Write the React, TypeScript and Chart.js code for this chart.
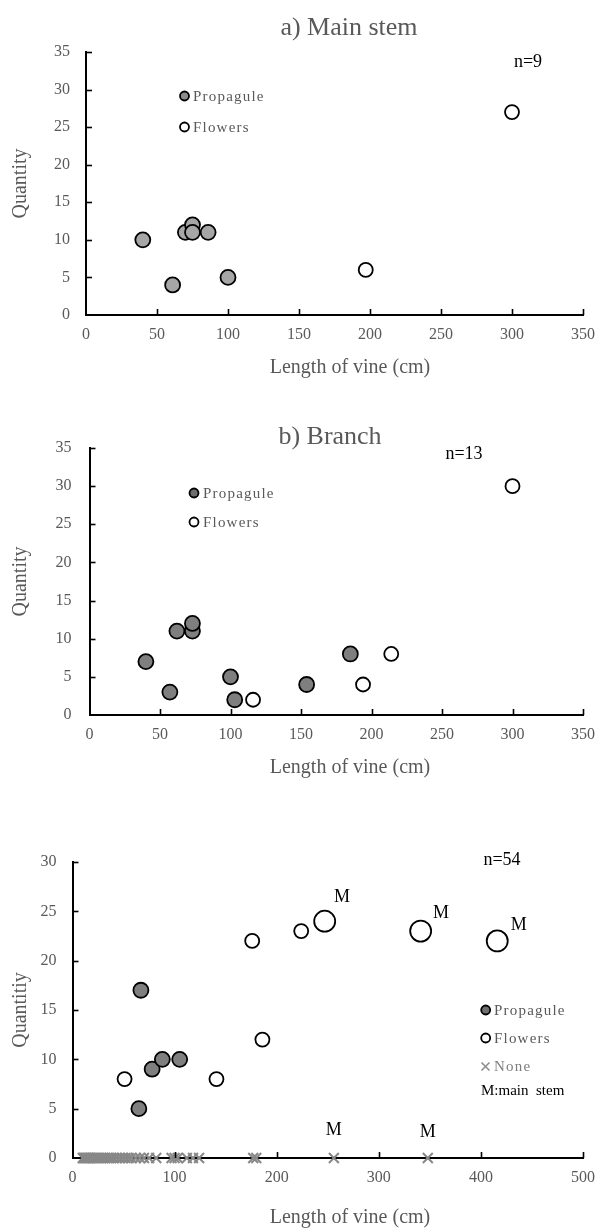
import React, { useEffect, useRef } from 'react';
import { Chart, registerables } from 'chart.js';

Chart.register(...registerables);

// ---------- a) Main stem ----------
const aPropX = [40, 61, 70, 75, 75, 86, 100];
const aPropY = [10, 4, 11, 12, 11, 11, 5];
const aFlowX = [197, 300];
const aFlowY = [6, 27];

// ---------- b) Branch ----------
const bPropX = [40, 57, 62, 73, 73, 100, 103, 154, 185];
const bPropY = [7, 3, 11, 11, 12, 5, 2, 4, 8];
const bFlowX = [116, 194, 214, 300];
const bFlowY = [2, 4, 8, 30];

// ---------- c) all vines ----------
const cPropX = [65, 67, 78, 88, 105];
const cPropY = [5, 17, 9, 10, 10];
const cFlowX = [51, 141, 176, 186, 224];
const cFlowY = [8, 8, 22, 12, 23];
const cMainX = [247, 341, 416];
const cMainY = [24, 23, 22];
const cNoneX = [10, 11, 12, 13, 14, 15, 16, 17, 18, 20, 22, 24, 26, 28, 30, 32, 34, 36, 38, 40, 43, 46, 49, 52, 55, 58, 62, 66, 70, 75, 82, 97, 100, 103, 112, 118, 124, 177, 180, 256, 348];
const cMLabelX = [264, 361, 437, 256, 348];
const cMLabelY = [26.4, 24.8, 23.6, 2.8, 2.6];

const xTicksAB = [0, 350, 50];
const yTicksAB = [0, 35, 5];
const xTicksC = [0, 500, 100];
const yTicksC = [0, 30, 5];

const SERIF = '"Liberation Serif", "Times New Roman", serif';
const GRAY = '#595959';

const pts = (xs: number[], ys: number[]) => xs.map((x, i) => ({ x, y: ys[i] }));

function drawText(ctx: any, s: string, x: number, y: number, size: number, color: string, align: CanvasTextAlign = 'center', spacing = 0) {
  ctx.save();
  ctx.font = `${size}px ${SERIF}`;
  ctx.fillStyle = color;
  ctx.textAlign = align;
  ctx.textBaseline = 'middle';
  if (spacing) ctx.letterSpacing = spacing + 'px';
  ctx.fillText(s, x, y);
  ctx.restore();
}

function legendCircle(ctx: any, x: number, y: number, r: number, fill: string) {
  ctx.save();
  ctx.beginPath();
  ctx.arc(x, y, r, 0, Math.PI * 2);
  ctx.fillStyle = fill;
  ctx.fill();
  ctx.lineWidth = 1.8;
  ctx.strokeStyle = '#000';
  ctx.stroke();
  ctx.restore();
}

function legendCross(ctx: any, x: number, y: number, r: number, color: string) {
  ctx.save();
  ctx.strokeStyle = color;
  ctx.lineWidth = 1.6;
  ctx.beginPath();
  ctx.moveTo(x - r, y - r);
  ctx.lineTo(x + r, y + r);
  ctx.moveTo(x + r, y - r);
  ctx.lineTo(x - r, y + r);
  ctx.stroke();
  ctx.restore();
}

function innerTicks(chart: any) {
  const { ctx, chartArea, scales } = chart;
  const xs = scales.x;
  const ys = scales.y;
  ctx.save();
  ctx.strokeStyle = '#000';
  ctx.lineWidth = 1.6;
  xs.ticks.forEach((t: any) => {
    if (t.value === xs.min) return;
    const px = Math.round(xs.getPixelForValue(t.value)) + 0.5;
    ctx.beginPath();
    ctx.moveTo(px, chartArea.bottom);
    ctx.lineTo(px, chartArea.bottom - 6);
    ctx.stroke();
  });
  ys.ticks.forEach((t: any) => {
    if (t.value === ys.min) return;
    const py = Math.round(ys.getPixelForValue(t.value)) + 0.5;
    ctx.beginPath();
    ctx.moveTo(chartArea.left, py);
    ctx.lineTo(chartArea.left + 6, py);
    ctx.stroke();
  });
  ctx.restore();
}

type Spec = {
  top: number;
  height: number;
  padTop: number;
  padRight: number;
  yWidth: number;
  xHeight: number;
  xRange: number[];
  yRange: number[];
  yTitle: string;
  yTickPad: number;
  datasets: any[];
  decorate: (chart: any) => void;
};

function circleSet(data: any[], fill: string, r: number) {
  return {
    data,
    clip: false,
    pointStyle: 'circle',
    pointRadius: r,
    pointHoverRadius: r,
    backgroundColor: fill,
    borderColor: '#000',
    borderWidth: 1.8,
  };
}

const specA: Spec = {
  top: 0,
  height: 400,
  padTop: 52,
  padRight: 22,
  yWidth: 86,
  xHeight: 85,
  xRange: xTicksAB,
  yRange: yTicksAB,
  yTitle: 'Quantity',
  yTickPad: 16,
  datasets: [
    circleSet(pts(aFlowX, aFlowY), '#ffffff', 7),
    circleSet(pts(aPropX, aPropY), '#a6a6a6', 7.5),
  ],
  decorate: (chart: any) => {
    const ctx = chart.ctx;
    const ca = chart.chartArea;
    drawText(ctx, 'a) Main stem', 349, 28, 26, GRAY);
    drawText(ctx, 'n=9', 528, 62, 18, '#000');
    legendCircle(ctx, 184.5, 96, 4.5, '#8c8c8c');
    drawText(ctx, 'Propagule', 193, 97, 15, GRAY, 'left', 1.2);
    legendCircle(ctx, 184.5, 127, 4.5, '#ffffff');
    drawText(ctx, 'Flowers', 193, 128, 15, GRAY, 'left', 1.2);
    drawText(ctx, 'Length of vine (cm)', 350, ca.bottom + 53, 20, GRAY);
  },
};

const specB: Spec = {
  top: 400,
  height: 400,
  padTop: 48,
  padRight: 14,
  yWidth: 89.5,
  xHeight: 85,
  xRange: xTicksAB,
  yRange: yTicksAB,
  yTitle: 'Quantity',
  yTickPad: 18,
  datasets: [
    circleSet(pts(bFlowX, bFlowY), '#ffffff', 7),
    circleSet(pts(bPropX, bPropY), '#7f7f7f', 7.5),
  ],
  decorate: (chart: any) => {
    const ctx = chart.ctx;
    const ca = chart.chartArea;
    drawText(ctx, 'b) Branch', 330, 37, 26, GRAY);
    drawText(ctx, 'n=13', 464, 54, 18, '#000');
    legendCircle(ctx, 194, 93, 4.5, '#6f6f6f');
    drawText(ctx, 'Propagule', 203, 94, 15, GRAY, 'left', 1.2);
    legendCircle(ctx, 194, 122, 4.5, '#ffffff');
    drawText(ctx, 'Flowers', 203, 123, 15, GRAY, 'left', 1.2);
    drawText(ctx, 'Length of vine (cm)', 350, ca.bottom + 53, 20, GRAY);
  },
};

const specC: Spec = {
  top: 800,
  height: 429,
  padTop: 62,
  padRight: 17,
  yWidth: 72.5,
  xHeight: 71,
  xRange: xTicksC,
  yRange: yTicksC,
  yTitle: 'Quantitiy',
  yTickPad: 16,
  datasets: [
    circleSet(pts(cMainX, cMainY), '#ffffff', 10.5),
    circleSet(pts(cFlowX, cFlowY), '#ffffff', 7),
    circleSet(pts(cPropX, cPropY), '#7f7f7f', 7.5),
    {
      data: cNoneX.map((x) => ({ x, y: 0 })),
      clip: false,
      pointStyle: 'crossRot',
      pointRadius: 7,
      pointHoverRadius: 7,
      borderColor: '#888888',
      backgroundColor: '#888888',
      borderWidth: 2,
    },
  ],
  decorate: (chart: any) => {
    const ctx = chart.ctx;
    const ca = chart.chartArea;
    const xs = chart.scales.x;
    const ys = chart.scales.y;
    cMLabelX.forEach((mx, i) => {
      drawText(ctx, 'M', xs.getPixelForValue(mx), ys.getPixelForValue(cMLabelY[i]), 18, '#000');
    });
    drawText(ctx, 'n=54', 502, 60, 18, '#000');
    legendCircle(ctx, 485.7, 210, 4.5, '#6f6f6f');
    drawText(ctx, 'Propagule', 494, 211, 15, GRAY, 'left', 1.2);
    legendCircle(ctx, 485.7, 238, 4.5, '#ffffff');
    drawText(ctx, 'Flowers', 494, 239, 15, GRAY, 'left', 1.2);
    legendCross(ctx, 485.5, 266.5, 4, '#8c8c8c');
    drawText(ctx, 'None', 494, 267, 15, '#7f7f7f', 'left', 1.2);
    drawText(ctx, 'M:main  stem', 481, 291, 15, '#000', 'left');
    drawText(ctx, 'Length of vine (cm)', 350, ca.bottom + 60, 20, GRAY);
  },
};

function Panel({ spec }: { spec: Spec }) {
  const ref = useRef<HTMLCanvasElement | null>(null);
  useEffect(() => {
    if (!ref.current) return;
    const decor = {
      id: 'decor',
      afterDraw: (chart: any) => {
        innerTicks(chart);
        spec.decorate(chart);
      },
    };
    const chart = new Chart(ref.current, {
      type: 'scatter',
      data: { datasets: spec.datasets },
      options: {
        responsive: false,
        animation: false,
        events: [],
        layout: { padding: { top: spec.padTop, right: spec.padRight, left: 0, bottom: 0 } },
        plugins: { legend: { display: false }, tooltip: { enabled: false }, title: { display: false } },
        scales: {
          x: {
            type: 'linear',
            min: spec.xRange[0],
            max: spec.xRange[1],
            ticks: { stepSize: spec.xRange[2], color: GRAY, font: { family: SERIF, size: 16 }, padding: 10 },
            grid: { display: false, drawTicks: false },
            border: { display: true, color: '#000', width: 2 },
            afterFit: (s: any) => {
              s.height = spec.xHeight;
            },
          },
          y: {
            type: 'linear',
            min: spec.yRange[0],
            max: spec.yRange[1],
            ticks: { stepSize: spec.yRange[2], color: GRAY, font: { family: SERIF, size: 16 }, padding: spec.yTickPad },
            grid: { display: false, drawTicks: false },
            border: { display: true, color: '#000', width: 2 },
            title: {
              display: true,
              text: spec.yTitle,
              color: GRAY,
              font: { family: SERIF, size: 20 },
              padding: { top: 9, bottom: 0 },
            },
            afterFit: (s: any) => {
              s.width = spec.yWidth;
            },
          },
        },
      },
      plugins: [decor],
    } as any);
    return () => chart.destroy();
  }, [spec]);
  return (
    <canvas
      ref={ref}
      width={605}
      height={spec.height}
      style={{ position: 'absolute', left: 0, top: spec.top, display: 'block' }}
    />
  );
}

export default function App() {
  return (
    <div style={{ position: 'absolute', left: 0, top: 0, width: 605, height: 1229, background: '#ffffff' }}>
      <Panel spec={specA} />
      <Panel spec={specB} />
      <Panel spec={specC} />
    </div>
  );
}
